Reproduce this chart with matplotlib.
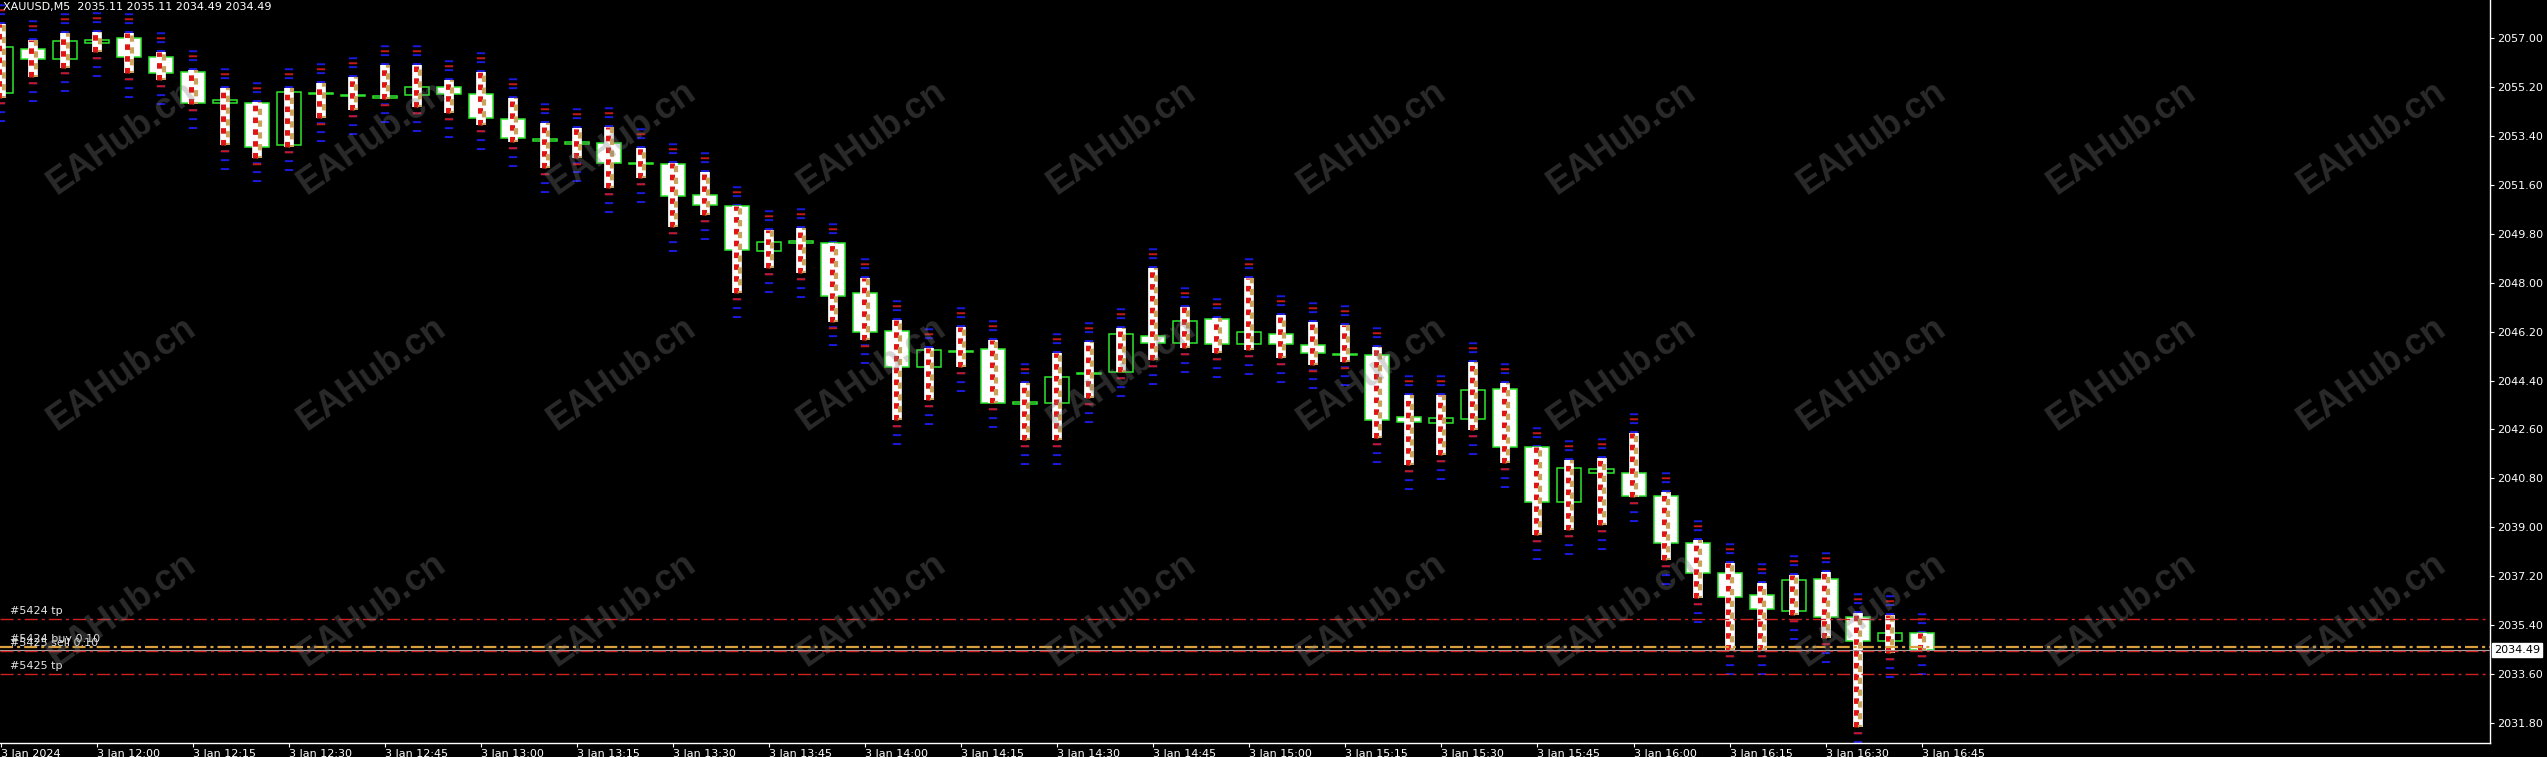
import matplotlib
matplotlib.use("Agg")
import matplotlib.pyplot as plt
from matplotlib.patches import Rectangle
import matplotlib.transforms as mtransforms

plt.rcParams['lines.scale_dashes'] = False
plt.rcParams['font.family'] = ['DejaVu Sans']

header = "XAUUSD,M5  2035.11 2035.11 2034.49 2034.49"
time_labels = ["3 Jan 2024", "3 Jan 12:00", "3 Jan 12:15", "3 Jan 12:30", "3 Jan 12:45",
               "3 Jan 13:00", "3 Jan 13:15", "3 Jan 13:30", "3 Jan 13:45", "3 Jan 14:00",
               "3 Jan 14:15", "3 Jan 14:30", "3 Jan 14:45", "3 Jan 15:00", "3 Jan 15:15",
               "3 Jan 15:30", "3 Jan 15:45", "3 Jan 16:00", "3 Jan 16:15", "3 Jan 16:30",
               "3 Jan 16:45"]
price_ticks = [2031.80, 2033.60, 2035.40, 2037.20, 2039.00, 2040.80, 2042.60, 2044.40,
               2046.20, 2048.00, 2049.80, 2051.60, 2053.40, 2055.20, 2057.00]

opens = [2054.98, 2056.58, 2056.22, 2056.80, 2056.99, 2056.29, 2055.74, 2054.60, 2054.60, 2053.05,
         2054.93, 2054.84, 2054.80, 2054.89, 2055.19, 2054.93, 2054.01, 2053.22, 2053.11, 2053.13,
         2052.37, 2052.36, 2051.21, 2050.81, 2049.16, 2049.47, 2049.45, 2047.61, 2046.22, 2044.89,
         2045.46, 2045.55, 2043.55, 2043.57, 2044.65, 2044.71, 2046.03, 2045.77, 2046.66, 2045.74,
         2046.11, 2045.70, 2045.35, 2045.33, 2043.05, 2042.84, 2043.00, 2044.08, 2041.95, 2039.93,
         2040.99, 2040.99, 2040.15, 2038.42, 2037.32, 2036.51, 2035.92, 2037.10, 2035.70, 2034.82,
         2035.11]
closes = [2056.66, 2056.22, 2056.88, 2056.91, 2056.29, 2055.70, 2054.60, 2054.71, 2052.98, 2055.00,
          2054.98, 2054.88, 2054.84, 2055.19, 2054.93, 2054.05, 2053.31, 2053.26, 2053.15, 2052.39,
          2052.41, 2051.18, 2050.84, 2049.19, 2049.49, 2049.51, 2047.50, 2046.18, 2044.89, 2045.52,
          2045.50, 2043.57, 2043.60, 2044.53, 2044.69, 2046.11, 2045.77, 2046.58, 2045.73, 2046.18,
          2045.74, 2045.40, 2045.38, 2042.94, 2042.87, 2043.02, 2044.05, 2041.95, 2039.93, 2041.17,
          2041.14, 2040.15, 2038.42, 2037.32, 2036.44, 2035.99, 2037.06, 2035.70, 2034.82, 2035.11,
          2034.49]
highs = [2057.50, 2056.92, 2057.17, 2057.21, 2057.17, 2056.47, 2055.81, 2055.15, 2054.64, 2055.15,
         2055.33, 2055.55, 2055.99, 2055.99, 2055.44, 2055.74, 2054.78, 2053.86, 2053.68, 2053.72,
         2052.94, 2052.40, 2052.06, 2050.81, 2049.93, 2050.00, 2049.45, 2048.17, 2046.62, 2045.59,
         2046.36, 2045.89, 2044.31, 2045.41, 2045.81, 2046.33, 2048.53, 2047.10, 2046.69, 2048.17,
         2046.80, 2046.55, 2046.44, 2045.63, 2043.86, 2043.86, 2045.08, 2044.31, 2041.95, 2041.47,
         2041.55, 2042.47, 2040.30, 2038.53, 2037.69, 2036.95, 2037.25, 2037.36, 2035.85, 2035.77,
         2035.11]
lows = [2054.80, 2055.55, 2055.89, 2056.47, 2055.70, 2055.44, 2054.55, 2053.05, 2052.58, 2053.00,
        2054.05, 2054.34, 2054.75, 2054.45, 2054.23, 2053.79, 2053.16, 2052.21, 2052.58, 2051.47,
        2051.84, 2050.04, 2050.48, 2047.61, 2048.53, 2048.35, 2046.55, 2045.89, 2042.94, 2043.68,
        2044.89, 2043.57, 2042.21, 2042.21, 2043.75, 2044.71, 2045.15, 2045.59, 2045.41, 2045.52,
        2045.22, 2044.97, 2045.08, 2042.28, 2041.29, 2041.66, 2042.58, 2041.36, 2038.72, 2038.90,
        2039.08, 2040.11, 2037.80, 2036.40, 2034.49, 2034.49, 2035.77, 2034.93, 2031.66, 2034.38,
        2034.49]

tp_5424 = 2035.63
tp_5425 = 2033.60
entry_5424_buy = 2034.61
entry_5425_sell = 2034.45
bid_price = 2034.49
watermark = "EAHub.cn"

W, H = 2547, 757
fig = plt.figure(figsize=(W / 100, H / 100), dpi=100, facecolor='black')
ax = fig.add_axes([0, 14 / H, 2490 / W, 743 / H])
ax.set_facecolor('black')

px_per_candle = 32.01
ax.set_xlim((0 - 1) / px_per_candle, (2490 - 1) / px_per_candle)
ax.set_ylim(2031.076, 2058.386)

GREEN = '#2ee62e'
ext = 0.9
xs = list(range(len(opens)))

# indicator dashes above / below
ax.vlines(xs, highs, [h + ext for h in highs], colors='#1a1ae0', lw=6.0,
          linestyles=[(0, (1.4, 5.0))], zorder=1)
ax.vlines(xs, highs, [h + ext * 0.8 for h in highs], colors='#c81818', lw=6.0,
          linestyles=[(3.2, (1.4, 11.0))], zorder=1)
ax.vlines(xs, [l - ext for l in lows], lows, colors='#1a1ae0', lw=6.0,
          linestyles=[(0, (1.4, 5.0))], zorder=1)
ax.vlines(xs, [l - ext * 0.8 for l in lows], lows, colors='#c81818', lw=6.0,
          linestyles=[(3.2, (1.4, 11.0))], zorder=1)

# wicks
ax.vlines(xs, lows, highs, colors=GREEN, lw=1.0, zorder=2)

# bodies
for i in xs:
    o, c = opens[i], closes[i]
    bot = min(o, c)
    hgt = max(abs(c - o), 0.04)
    fc = 'black' if c >= o else 'white'
    ax.add_patch(Rectangle((i - 0.375, bot), 0.75, hgt, facecolor=fc, edgecolor=GREEN,
                           lw=1.1, zorder=3))

# trade marker columns
ax.vlines(xs, lows, highs, colors='white', lw=7.0, zorder=4)
ax.vlines([x - 0.05 for x in xs], lows, highs, colors='#e01414', lw=3.6,
          linestyles=[(0, (4.0, 4.5))], zorder=5)
ax.vlines([x + 0.09 for x in xs], lows, highs, colors='#c9a25e', lw=3.0,
          linestyles=[(3.0, (4.5, 4.0))], zorder=5)

# horizontal order lines
dd = (0, (9.4, 2.9, 2.2, 2.9))
ax.axhline(tp_5424, color='#d02020', lw=1.0, ls=dd, zorder=6)
ax.axhline(tp_5425, color='#d02020', lw=1.0, ls=dd, zorder=6)
ax.axhline(entry_5424_buy, color='#d9a040', lw=1.6, ls=dd, zorder=6)
ax.axhline(bid_price, color='#a8a8a8', lw=0.8, zorder=6)
ax.axhline(entry_5425_sell, color='#d02020', lw=1.0, ls=dd, zorder=6)

lx = (10 - 1) / px_per_candle
lbl_kw = dict(color='#e6e6e6', fontsize=8, ha='left', va='bottom', zorder=7)
off = mtransforms.offset_copy(ax.transData, fig=fig, x=0, y=3, units='dots')
ax.text(lx, tp_5424, "#5424 tp", transform=off, **lbl_kw)
ax.text(lx, tp_5425, "#5425 tp", transform=off, **lbl_kw)
ax.text(lx, entry_5424_buy, "#5424 buy 0.10", transform=off, **lbl_kw)
ax.text(lx, entry_5425_sell, "#5425 sell 0.10", transform=off, **lbl_kw)

# watermarks
for wy in (138, 374, 610):
    for k in range(10):
        wx = 122 + 250 * k
        ax.text(wx / 2490, 1 - wy / 743, watermark, transform=ax.transAxes,
                rotation=35, ha='center', va='center', fontsize=26, fontweight='bold',
                family='Liberation Sans', color='#808080', alpha=0.33, zorder=8)

# axes styling
for s in ('left', 'top'):
    ax.spines[s].set_visible(False)
for s in ('right', 'bottom'):
    ax.spines[s].set_color('white')
    ax.spines[s].set_linewidth(1.0)
ax.yaxis.tick_right()
ax.set_yticks(price_ticks)
ax.set_yticklabels([f"{p:.2f}" for p in price_ticks])
ax.set_xticks(list(range(0, len(opens), 3)))
ax.set_xticklabels(time_labels)
for lbl in ax.get_xticklabels():
    lbl.set_horizontalalignment('left')
ax.tick_params(axis='both', colors='white', labelcolor='white', labelsize=8,
               length=3, width=0.8, direction='out')
ax.tick_params(axis='x', pad=1)
ax.tick_params(axis='y', pad=2)

# header
fig.text(3 / W, 1 - 2 / H, header, color='white', fontsize=8, ha='left', va='top')

# current price box
ax.annotate(f"{bid_price:.2f}", xy=(1, bid_price), xycoords=('axes fraction', 'data'),
            xytext=(4, 0), textcoords='offset pixels', ha='left', va='center',
            fontsize=8, color='black', zorder=10, annotation_clip=False,
            bbox=dict(boxstyle='square,pad=0.15', fc='white', ec='white'))

fig.savefig('out.png', dpi=100, facecolor='black')
